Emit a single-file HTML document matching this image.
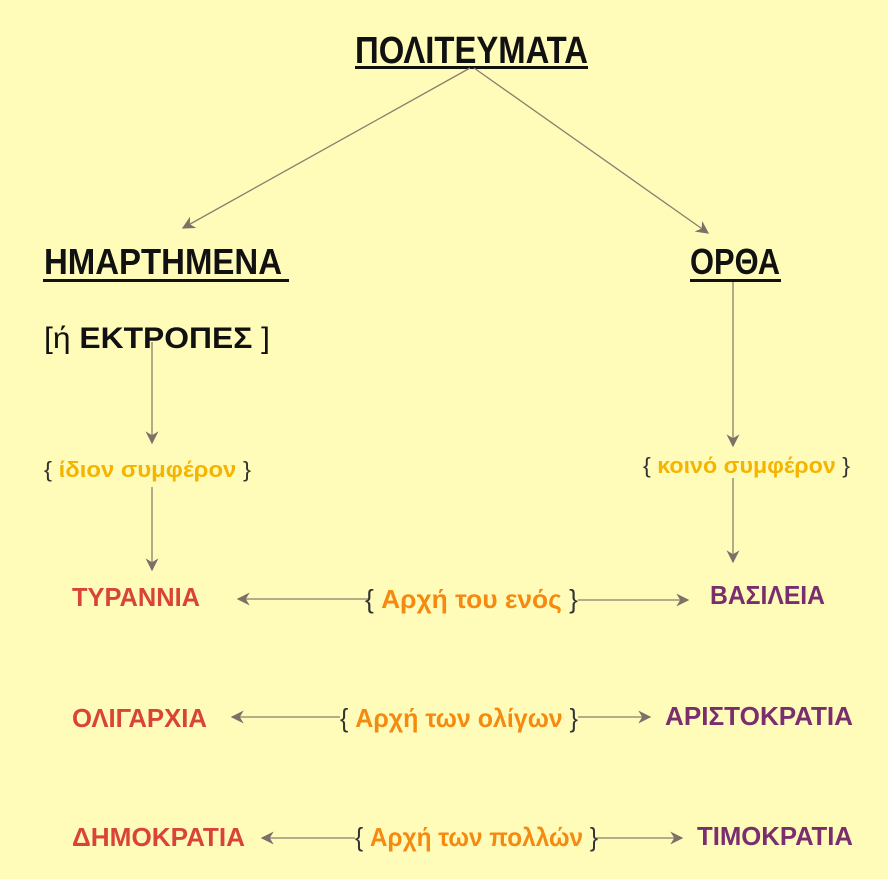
<!DOCTYPE html>
<html><head><meta charset="utf-8"><style>
html,body{margin:0;padding:0;background:#fffbb8;}
svg{display:block}
text{font-family:"Liberation Sans Narrow","Liberation Sans",sans-serif;font-weight:bold}
</style></head><body>
<svg width="888" height="879" viewBox="0 0 888 879" xmlns="http://www.w3.org/2000/svg">
<defs>
<marker id="a" viewBox="0 0 10 10" refX="9" refY="5" markerWidth="10" markerHeight="10" orient="auto-start-reverse">
<path d="M0,0 L10,5 L0,10 L3,5 Z" fill="#7a7268"/></marker>
</defs>
<rect width="888" height="879" fill="#fffbb8"/>
<g fill="#111">
<text x="355" y="63" font-size="38" textLength="233" lengthAdjust="spacingAndGlyphs">ΠΟΛΙΤΕΥΜΑΤΑ</text>
<rect x="355" y="66" width="233" height="3"/>
<text x="44" y="274" font-size="36" textLength="238" lengthAdjust="spacingAndGlyphs">ΗΜΑΡΤΗΜΕΝΑ</text>
<rect x="43" y="279" width="246" height="3"/>
<text x="690" y="274" font-size="36" textLength="90" lengthAdjust="spacingAndGlyphs">ΟΡΘΑ</text>
<rect x="690" y="279" width="91" height="3"/>
<text x="44" y="348" font-size="30" textLength="226" lengthAdjust="spacingAndGlyphs"><tspan font-weight="normal">[ή </tspan>ΕΚΤΡΟΠΕΣ <tspan font-weight="normal">]</tspan></text>
</g>
<g stroke="#8a7e70" stroke-width="1.3" fill="none">
<line x1="470" y1="68" x2="183" y2="228" marker-end="url(#a)"/>
<line x1="474" y1="68" x2="708" y2="233" marker-end="url(#a)"/>
<line x1="152" y1="342" x2="152" y2="443" marker-end="url(#a)"/>
<line x1="152" y1="487" x2="152" y2="570" marker-end="url(#a)"/>
<line x1="733" y1="282" x2="733" y2="446" marker-end="url(#a)"/>
<line x1="733" y1="478" x2="733" y2="562" marker-end="url(#a)"/>
<line x1="238" y1="599" x2="368" y2="599" marker-start="url(#a)"/>
<line x1="578" y1="600" x2="688" y2="600" marker-end="url(#a)"/>
<line x1="232" y1="717" x2="340" y2="717" marker-start="url(#a)"/>
<line x1="578" y1="717" x2="650" y2="717" marker-end="url(#a)"/>
<line x1="262" y1="838" x2="355" y2="838" marker-start="url(#a)"/>
<line x1="596" y1="838" x2="682" y2="838" marker-end="url(#a)"/>
</g>
<g font-size="22">
<text x="44" y="477" textLength="207" lengthAdjust="spacingAndGlyphs"><tspan fill="#333" font-weight="normal">{ </tspan><tspan fill="#f5b400">ίδιον  συμφέρον</tspan><tspan fill="#333" font-weight="normal"> }</tspan></text>
<text x="643" y="473" textLength="207" lengthAdjust="spacingAndGlyphs"><tspan fill="#333" font-weight="normal">{ </tspan><tspan fill="#f5b400">κοινό συμφέρον</tspan><tspan fill="#333" font-weight="normal"> }</tspan></text>
</g>
<g font-size="26">
<text x="72" y="606" fill="#d9443a" textLength="128" lengthAdjust="spacingAndGlyphs" style="font-family:'Liberation Sans',sans-serif">ΤΥΡΑΝΝΙΑ</text>
<text x="710" y="604" fill="#7a2e6e" textLength="115" lengthAdjust="spacingAndGlyphs">ΒΑΣΙΛΕΙΑ</text>
<text x="365" y="608" textLength="213" lengthAdjust="spacingAndGlyphs"><tspan fill="#333" font-weight="normal">{ </tspan><tspan fill="#f58a10">Αρχή του ενός</tspan><tspan fill="#333" font-weight="normal"> }</tspan></text>
<text x="72" y="727" fill="#d9443a" textLength="135" lengthAdjust="spacingAndGlyphs">ΟΛΙΓΑΡΧΙΑ</text>
<text x="665" y="725" fill="#7a2e6e" textLength="188" lengthAdjust="spacingAndGlyphs">ΑΡΙΣΤΟΚΡΑΤΙΑ</text>
<text x="340" y="727" textLength="238" lengthAdjust="spacingAndGlyphs"><tspan fill="#333" font-weight="normal">{ </tspan><tspan fill="#f58a10">Αρχή των ολίγων</tspan><tspan fill="#333" font-weight="normal"> }</tspan></text>
<text x="72" y="846" fill="#d9443a" textLength="173" lengthAdjust="spacingAndGlyphs">ΔΗΜΟΚΡΑΤΙΑ</text>
<text x="697" y="845" fill="#7a2e6e" textLength="156" lengthAdjust="spacingAndGlyphs">ΤΙΜΟΚΡΑΤΙΑ</text>
<text x="355" y="846" textLength="243" lengthAdjust="spacingAndGlyphs"><tspan fill="#333" font-weight="normal">{ </tspan><tspan fill="#f58a10">Αρχή των πολλών</tspan><tspan fill="#333" font-weight="normal"> }</tspan></text>
</g>
</svg>
</body></html>
